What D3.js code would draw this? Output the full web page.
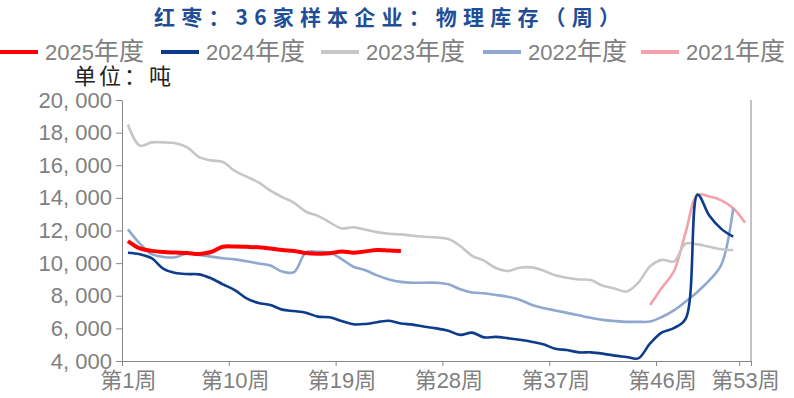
<!DOCTYPE html>
<html>
<head>
<meta charset="utf-8">
<script src="https://cdn.jsdelivr.net/npm/d3@7"></script>
<style>
  body { margin: 0; background: #fff; }
  text { font-family: "Liberation Sans", "Noto Sans CJK SC", sans-serif; }
</style>
</head>
<body>
<script>
// Chart data (weekly inventory, tons)
const weeks = d3.range(1, 54);
const xLabelWeeks = [1, 10, 19, 28, 37, 46, 53];
const yTicks = [4000, 6000, 8000, 10000, 12000, 14000, 16000, 18000, 20000];

const names = ["2025年度", "2024年度", "2023年度", "2022年度", "2021年度"];
const startWeeks = [1, 1, 1, 1, 45];

const v2025 = [11350, 10900, 10750, 10680, 10650, 10620, 10560, 10680, 11000, 11020,
               11000, 10970, 10900, 10800, 10750, 10620, 10580, 10600, 10720, 10640,
               10720, 10800, 10770, 10740];
const v2024 = [10640, 10550, 10300, 9650, 9400, 9330, 9310, 9070, 8700, 8350,
               7840, 7560, 7430, 7150, 7060, 6960, 6720, 6680, 6450, 6250,
               6270, 6380, 6470, 6300, 6230, 6100, 6000, 5850, 5600, 5740,
               5450, 5480, 5400, 5300, 5180, 5020, 4750, 4670, 4530, 4530,
               4450, 4330, 4250, 4160, 5080, 5750, 6020, 6600, 14200, 12900,
               12100, 11620];
const v2023 = [18500, 17200, 17400, 17400, 17350, 17100, 16500, 16300, 16200, 15650,
               15300, 14950, 14450, 14050, 13700, 13150, 12900, 12500, 12130, 12200,
               12050, 11900, 11800, 11760, 11680, 11620, 11570, 11480, 11050, 10450,
               10150, 9700, 9520, 9720, 9740, 9550, 9250, 9100, 9000, 8960,
               8620, 8450, 8260, 8800, 9800, 10200, 10100, 11200, 11150, 11000,
               10850, 10800];
const v2022 = [12070, 11200, 10550, 10380, 10360, 10600, 10500, 10400, 10300, 10230,
               10120, 9980, 9850, 9480, 9450, 10650, 10700, 10650, 10250, 9780,
               9560, 9250, 9000, 8850, 8800, 8800, 8800, 8700, 8400, 8200,
               8150, 8050, 7940, 7760, 7450, 7250, 7100, 6950, 6800, 6650,
               6520, 6450, 6400, 6400, 6420, 6700, 7100, 7650, 8250, 8960,
               9900, 13360];
const v2021 = [7430, 8500, 9500, 11900, 14180, 14080, 13850, 13360, 12480];

const colors = ["#ff0000", "#0d3c8c", "#c6c6c6", "#8ea8d0", "#f4a1ab"];
const widths = [4, 2.6, 2.6, 2.6, 2.6];

function draw() {
    const width = 794, height = 398;
    const left = 122, right = 751, top = 100, bottom = 361;
    const grey = "#808080";

    const svg = d3.select("body").append("svg")
        .attr("width", width)
        .attr("height", height);

    // Title
    svg.append("text")
        .attr("x", 387)
        .attr("y", 25)
        .attr("text-anchor", "middle")
        .attr("textLength", 466)
        .attr("lengthAdjust", "spacing")
        .style("font-family", "'Noto Sans CJK SC', sans-serif")
        .style("font-size", "21px")
        .style("font-weight", "bold")
        .attr("fill", "#1f4e96")
        .text("红枣：36家样本企业：物理库存（周）");

    // Scales
    const x = d3.scaleLinear().domain([0.5, 53.5]).range([left, right]);
    const y = d3.scaleLinear().domain([4000, 20000]).range([bottom, top]);

    // Y axis
    const yAxis = d3.axisLeft(y)
        .tickValues(yTicks)
        .tickSize(6)
        .tickSizeOuter(0)
        .tickPadding(4)
        .tickFormat(d => d3.format(",")(d).replace(",", ", "));
    const gy = svg.append("g")
        .attr("transform", "translate(" + left + ",0)")
        .call(yAxis);
    gy.selectAll("text").attr("fill", grey).style("font-size", "22px");

    // X axis: ticks on week boundaries, labels on week centers
    svg.append("g")
        .attr("transform", "translate(0," + bottom + ")")
        .call(d3.axisBottom(x)
            .tickValues([0.5, 9.5, 18.5, 27.5, 36.5, 45.5, 52.5, 53.5])
            .tickSize(5)
            .tickSizeOuter(0)
            .tickFormat(""));
    const gxl = svg.append("g")
        .attr("transform", "translate(0," + bottom + ")")
        .call(d3.axisBottom(x)
            .tickValues(xLabelWeeks)
            .tickSize(0)
            .tickPadding(11)
            .tickFormat(d => "第" + d + "周"));
    gxl.select(".domain").remove();
    gxl.selectAll("text").attr("fill", grey).style("font-size", "22px");

    svg.selectAll(".domain, .tick line").attr("stroke", "#888");

    // Right border
    svg.append("line")
        .attr("x1", x(53.5)).attr("x2", x(53.5))
        .attr("y1", top).attr("y2", bottom)
        .attr("stroke", "#888");

    // Lines
    const series = [v2025, v2024, v2023, v2022, v2021];
    const line = d3.line()
        .x(d => x(d.w))
        .y(d => y(d.v))
        .curve(d3.curveCatmullRom.alpha(0.5));

    for (let i = series.length - 1; i >= 0; i--) {
        const pts = series[i].map((v, j) => ({ w: weeks[startWeeks[i] - 1 + j], v: v }));
        svg.append("path")
            .datum(pts)
            .attr("d", line)
            .attr("fill", "none")
            .attr("stroke", colors[i])
            .attr("stroke-width", widths[i])
            .attr("stroke-linejoin", "round");
    }

    // Legend
    const legendX = [0, 161, 321, 483, 641];
    const legend = svg.append("g")
        .selectAll("g")
        .data(names)
        .enter().append("g")
        .attr("transform", (d, i) => "translate(" + legendX[i] + ",52)");

    legend.append("line")
        .attr("x1", 0).attr("x2", 38)
        .attr("stroke", (d, i) => colors[i])
        .attr("stroke-width", 4);

    const lt = legend.append("text")
        .attr("x", 45)
        .attr("y", 8)
        .attr("fill", grey)
        .style("font-size", "22px");
    lt.append("tspan").text(d => d.slice(0, 4));
    lt.append("tspan").style("font-size", "25px").text(d => d.slice(4));

    // Unit
    svg.append("text")
        .attr("x", 74)
        .attr("y", 84)
        .attr("fill", "#222")
        .attr("letter-spacing", "3px")
        .style("font-size", "22px")
        .text("单位：吨");
}

draw();
</script>
</body>
</html>
